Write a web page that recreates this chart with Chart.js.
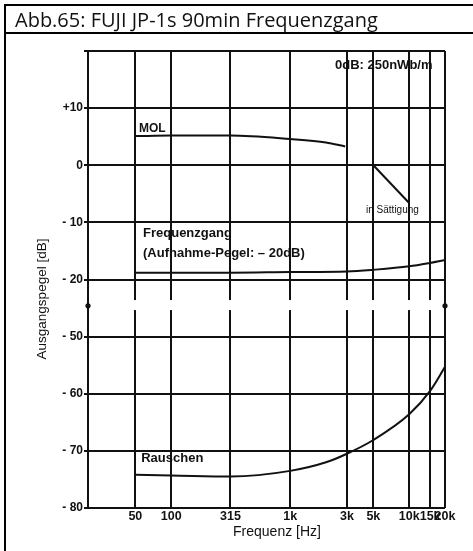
<!DOCTYPE html>
<html lang="de">
<head>
    <meta charset="UTF-8">
    <script src="https://cdn.jsdelivr.net/npm/chart.js"></script>
    <title>Abb.65: FUJI JP-1s 90min Frequenzgang</title>
    <style>
        html, body { margin: 0; padding: 0; background: #fff; }
        #wrap { position: relative; width: 473px; height: 551px; overflow: hidden; }
        #chart { position: absolute; left: 0; top: 0; }
        #head {
            position: absolute; left: 4px; top: 4px; width: 480px; height: 26px;
            border-top: 2px solid #000; border-bottom: 2px solid #000;
            font: 20px "Open Sans", sans-serif; line-height: 27px; padding-left: 11px;
            color: #111; box-sizing: content-box;
        }
        #leftline { position: absolute; left: 4px; top: 4px; width: 2px; height: 547px; background: #000; }
    </style>
</head>
<body>
<div id="wrap">
    <canvas id="chart" width="473" height="551"></canvas>
    <div id="head">Abb.65: FUJI JP-1s 90min Frequenzgang</div>
    <div id="leftline"></div>
</div>

<script>
    // x axis (Hz)
    const freqTicks = [50, 100, 315, 1000, 3000, 5000, 10000, 15000, 20000];
    const freqTickLabels = ['50', '100', '315', '1k', '3k', '5k', '10k', '15k', '20k'];

    // y axis (dB) - the axis is broken between -20 and -50 (one grid row)
    const levelTicks = [20, 10, 0, -10, -20, -50, -60, -70, -80];
    const levelTickLabels = ['', '+10', '0', '- 10', '- 20', '- 50', '- 60', '- 70', '- 80'];
    const BREAK_AT = -50, BREAK_SHIFT = 20;

    // MOL
    const molFreq = [50, 100, 315, 1000, 2000, 2900];
    const molDb = [5.1, 5.2, 5.2, 4.6, 4.0, 3.3];
    // in Saettigung
    const satFreq = [5000, 10000];
    const satDb = [0, -6.6];
    // Frequenzgang (Aufnahme-Pegel -20dB)
    const fgFreq = [50, 100, 315, 1000, 3000, 5000, 10000, 15000, 20000];
    const fgDb = [-18.8, -18.8, -18.8, -18.7, -18.6, -18.3, -17.7, -17.1, -16.6];
    // Rauschen
    const noiseFreq = [50, 100, 315, 1000, 2000, 3000, 5000, 10000, 15000, 20000];
    const noiseDb = [-74.2, -74.3, -74.5, -73.5, -72.0, -70.5, -68.1, -63.6, -59.5, -55.3];

    // real dB -> position on the broken axis
    function axisVal(db) {
        return db <= BREAK_AT ? db + BREAK_SHIFT : db;
    }
    function pts(fs, dbs) {
        return fs.map((f, i) => ({ x: f, y: axisVal(dbs[i]) }));
    }

    const ink = '#111';

    function lineSet(data, smooth) {
        return {
            data: data,
            borderColor: ink,
            borderWidth: 2,
            pointRadius: 0,
            fill: false,
            cubicInterpolationMode: smooth ? 'monotone' : 'default',
            tension: 0
        };
    }

    const notes = [
        { text: '0dB: 250nWb/m', x: 2380, y: 17.4, font: 'bold 13px "Liberation Sans"' },
        { text: 'MOL', x: 53.7, y: 6.35, font: 'bold 12px "Liberation Sans"' },
        { text: 'in Sättigung', x: 4340, y: -7.8, font: '10px "Liberation Sans"' },
        { text: 'Frequenzgang', x: 58, y: -12.0, font: 'bold 13px "Liberation Sans"' },
        { text: '(Aufnahme-Pegel: \u2013 20dB)', x: 58, y: -15.35, font: 'bold 13px "Liberation Sans"' },
        { text: 'Rauschen', x: 56, y: axisVal(-71.4), font: 'bold 13px "Liberation Sans"' }
    ];

    const decor = {
        id: 'decor',
        beforeDatasetsDraw(chart) {
            const ctx = chart.ctx, a = chart.chartArea, y = chart.scales.y;
            // gap in the vertical lines where the axis is broken
            const g1 = y.getPixelForValue(-23.6), g2 = y.getPixelForValue(-25.35);
            ctx.save();
            ctx.fillStyle = '#fff';
            ctx.fillRect(a.left + 2, g1, a.right - a.left - 4, g2 - g1);
            // break marks on both edges
            const yb = y.getPixelForValue(-24.6);
            ctx.fillStyle = ink;
            [a.left, a.right].forEach(px => {
                ctx.beginPath();
                ctx.arc(px, yb, 2.6, 0, Math.PI * 2);
                ctx.fill();
            });
            ctx.restore();
        },
        afterDatasetsDraw(chart) {
            const ctx = chart.ctx, x = chart.scales.x, y = chart.scales.y;
            ctx.save();
            ctx.fillStyle = ink;
            ctx.textBaseline = 'middle';
            ctx.textAlign = 'left';
            notes.forEach(n => {
                ctx.font = n.font;
                ctx.fillText(n.text, x.getPixelForValue(n.x), y.getPixelForValue(n.y));
            });
            // axis titles
            ctx.font = '14px "Liberation Sans"';
            ctx.textAlign = 'center';
            ctx.fillText('Frequenz [Hz]', 277, 532);
            ctx.translate(42, 299);
            ctx.rotate(-Math.PI / 2);
            ctx.font = '13.5px "Liberation Sans"';
            ctx.fillText('Ausgangspegel [dB]', 0, 0);
            ctx.restore();
        }
    };

    new Chart(document.getElementById('chart'), {
        type: 'line',
        data: {
            datasets: [
                lineSet(pts(molFreq, molDb), true),
                lineSet(pts(satFreq, satDb), false),
                lineSet(pts(fgFreq, fgDb), true),
                lineSet(pts(noiseFreq, noiseDb), true)
            ]
        },
        options: {
            responsive: false,
            animation: false,
            events: [],
            layout: { padding: { left: 0, top: 51, right: 28, bottom: 0 } },
            plugins: { legend: { display: false }, tooltip: { enabled: false } },
            scales: {
                x: {
                    type: 'logarithmic',
                    min: 20,
                    max: 20000,
                    afterBuildTicks: s => { s.ticks = freqTicks.map(v => ({ value: v })); },
                    afterFit: s => { s.height = 43; },
                    ticks: {
                        autoSkip: false,
                        maxRotation: 0,
                        padding: 1,
                        color: ink,
                        font: { family: 'Liberation Sans', size: 12.5, weight: 'bold' },
                        callback: (v, i) => freqTickLabels[i]
                    },
                    grid: { color: ink, lineWidth: 2, drawTicks: false },
                    border: { display: false }
                },
                y: {
                    type: 'linear',
                    min: axisVal(-80),
                    max: 20,
                    afterBuildTicks: s => { s.ticks = levelTicks.map(v => ({ value: axisVal(v) })); },
                    afterFit: s => { s.width = 88; },
                    ticks: {
                        padding: 1,
                        color: ink,
                        font: { family: 'Liberation Sans', size: 12, weight: 'bold' },
                        callback: (v, i) => levelTickLabels[i]
                    },
                    grid: { color: ink, lineWidth: 2, drawTicks: true, tickLength: 4 },
                    border: { color: ink, width: 2 }
                }
            }
        },
        plugins: [decor]
    });
</script>
</body>
</html>
